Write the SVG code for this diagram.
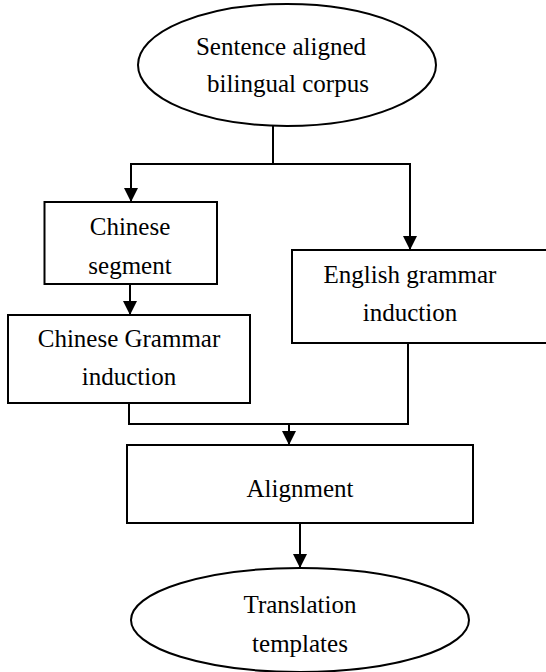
<svg xmlns="http://www.w3.org/2000/svg" width="546" height="672" viewBox="0 0 546 672">
<style>
.s{fill:#fff;stroke:#000;stroke-width:2}
.t{font-family:"Liberation Serif","Times New Roman",serif;font-size:25px;fill:#000;text-anchor:middle}
.c{fill:none;stroke:#000;stroke-width:2}
</style>
<defs>
<marker id="a" markerWidth="14" markerHeight="15" refX="14" refY="7" orient="auto" markerUnits="userSpaceOnUse">
<path d="M0,0 L14,7 L0,14 Z" fill="#000"/>
</marker>
</defs>
<rect width="546" height="672" fill="#fff"/>
<g id="connectors">
<path class="c" d="M273,126 V164 H131 V202" marker-end="url(#a)"/>
<path class="c" d="M273,164 H410 V250" marker-end="url(#a)"/>
<path class="c" d="M130,284 V315" marker-end="url(#a)"/>
<path class="c" d="M129,403 V424 H408 V343"/>
<path class="c" d="M289,424 V445" marker-end="url(#a)"/>
<path class="c" d="M300,523 V568" marker-end="url(#a)"/>
</g>
<g id="corpus">
<ellipse class="s" cx="287" cy="65" rx="149" ry="61"/>
<text class="t" x="281" y="55">Sentence aligned</text>
<text class="t" x="288" y="92">bilingual corpus</text>
</g>
<g id="segment">
<rect class="s" x="44.5" y="202" width="172.5" height="82"/>
<text class="t" x="130" y="235">Chinese</text>
<text class="t" x="130" y="274">segment</text>
</g>
<g id="cgrammar">
<rect class="s" x="8" y="315" width="242" height="88"/>
<text class="t" x="129" y="347">Chinese Grammar</text>
<text class="t" x="129" y="385">induction</text>
</g>
<g id="egrammar">
<rect class="s" x="292" y="250" width="260" height="93"/>
<text class="t" x="410" y="283">English grammar</text>
<text class="t" x="410" y="321">induction</text>
</g>
<g id="alignment">
<rect class="s" x="127" y="445" width="346" height="78"/>
<text class="t" x="300" y="497">Alignment</text>
</g>
<g id="templates">
<ellipse class="s" cx="300" cy="620" rx="169" ry="52"/>
<text class="t" x="300" y="613">Translation</text>
<text class="t" x="300" y="652">templates</text>
</g>
</svg>
